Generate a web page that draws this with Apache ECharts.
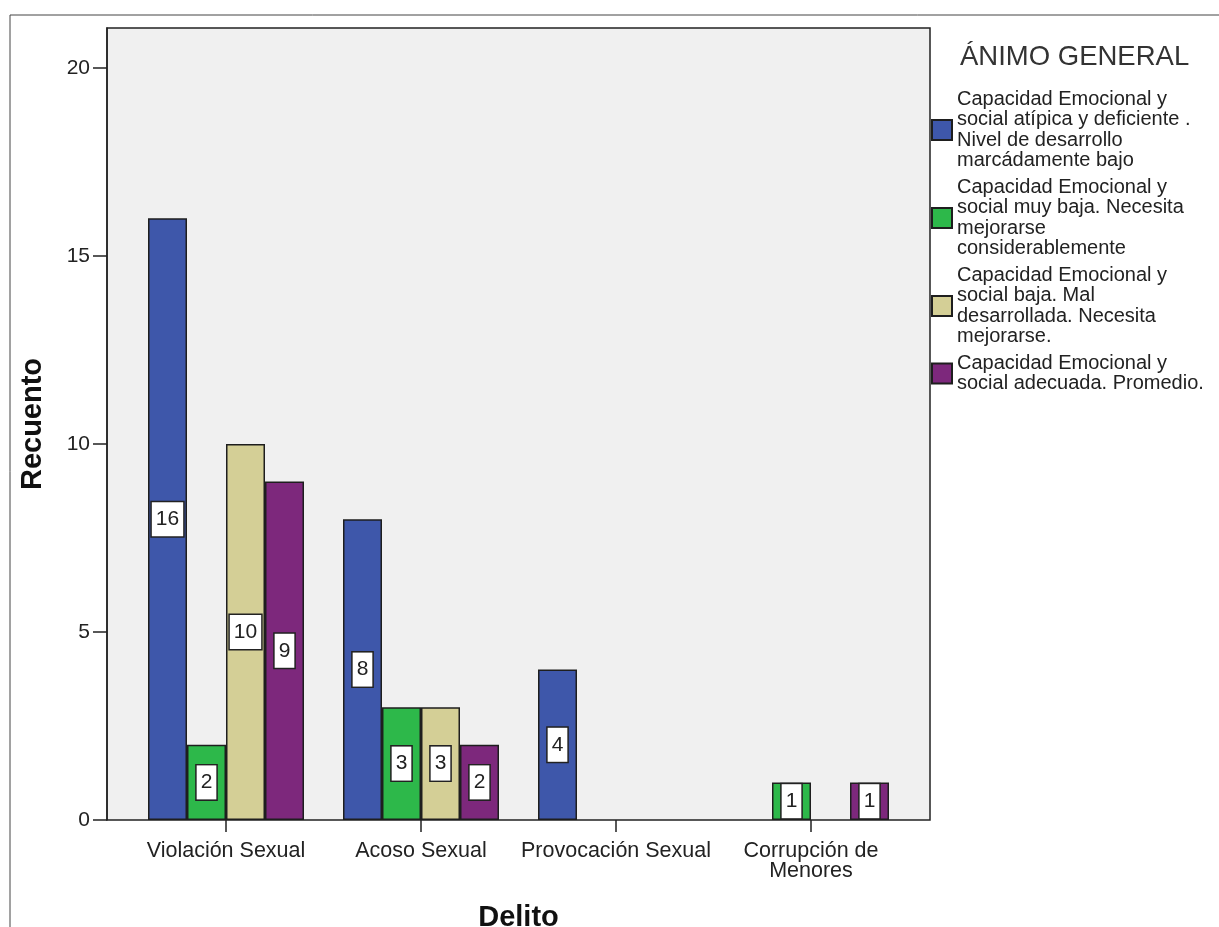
<!DOCTYPE html>
<html>
<head>
<meta charset="utf-8">
<script src="https://cdn.jsdelivr.net/npm/echarts@6/dist/echarts.min.js"></script>
<style>
html,body{margin:0;padding:0;background:#fff;}
#c{width:1219px;height:927px;}
</style>
</head>
<body>
<div id="c"></div>
<script>
const categories = ['Violación Sexual', 'Acoso Sexual', 'Provocación Sexual', 'Corrupción de\nMenores'];
const seriesNames = [
  'Capacidad Emocional y\nsocial atípica y deficiente .\nNivel de desarrollo\nmarcádamente bajo',
  'Capacidad Emocional y\nsocial muy baja. Necesita\nmejorarse\nconsiderablemente',
  'Capacidad Emocional y\nsocial baja. Mal\ndesarrollada. Necesita\nmejorarse.',
  'Capacidad Emocional y\nsocial adecuada. Promedio.'
];
const valuesAtipica = [16, 8, 4, null];
const valuesMuyBaja = [2, 3, null, 1];
const valuesBaja = [10, 3, null, null];
const valuesAdecuada = [9, 2, null, 1];
const yTicks = [0, 5, 10, 15, 20];
const colors = ['#3e57aa', '#2db84a', '#d4cf96', '#7d287c'];

const FONT = '"Liberation Sans", Arial, sans-serif';
const YMAX = 21.06;

const seriesData = [valuesAtipica, valuesMuyBaja, valuesBaja, valuesAdecuada];

const chart = echarts.init(document.getElementById('c'), null, {renderer: 'canvas'});
chart.setOption({
  animation: false,
  backgroundColor: '#ffffff',
  textStyle: {fontFamily: FONT},
  graphic: [{
    type: 'rect',
    shape: {x: 10, y: 15, width: 1400, height: 1200},
    style: {fill: 'none', stroke: '#444', lineWidth: 1},
    silent: true,
    z: -10
  }],
  title: {
    text: 'ÁNIMO GENERAL',
    left: 955,
    top: 38,
    textStyle: {fontFamily: FONT, fontSize: 27.5, fontWeight: 'normal', color: '#333'}
  },
  legend: {
    orient: 'vertical',
    left: 931,
    top: 89,
    padding: 0,
    itemWidth: 20,
    itemHeight: 20,
    itemGap: 6,
    icon: 'rect',
    data: seriesNames,
    textStyle: {fontFamily: FONT, fontSize: 20, color: '#222', lineHeight: 20.5, padding: [0, 0, 0, 0]}
  },
  grid: [
    {left: 107, top: 28, width: 823, height: 792, show: true, backgroundColor: '#f0f0f0', borderColor: '#222', borderWidth: 1.5, containLabel: false, outerBoundsMode: 'none'},
    {left: 128.5, top: 28, width: 780, height: 792, containLabel: false, outerBoundsMode: 'none'}
  ],
  xAxis: [
    {gridIndex: 0, type: 'value', show: false, min: 0, max: 1},
    {
      gridIndex: 1,
      type: 'category',
      data: categories,
      name: 'Delito',
      nameLocation: 'middle',
      nameGap: 83,
      nameTextStyle: {fontFamily: FONT, fontSize: 29, fontWeight: 'bold', color: '#111'},
      axisLine: {show: false},
      axisTick: {show: true, alignWithLabel: true, length: 12, lineStyle: {color: '#222', width: 1.5}},
      axisLabel: {fontFamily: FONT, fontSize: 21.5, color: '#222', margin: 21, lineHeight: 20, interval: 0},
      splitLine: {show: false}
    }
  ],
  yAxis: [
    {
      gridIndex: 0,
      type: 'value',
      min: 0,
      max: YMAX,
      name: 'Recuento',
      nameLocation: 'middle',
      nameRotate: 90,
      nameGap: 60,
      nameTextStyle: {fontFamily: FONT, fontSize: 29, fontWeight: 'bold', color: '#111'},
      axisLine: {show: true, lineStyle: {color: '#222', width: 1.5}},
      axisTick: {show: true, length: 14, customValues: yTicks, lineStyle: {color: '#222', width: 1.5}},
      axisLabel: {fontFamily: FONT, fontSize: 21, color: '#222', margin: 17, customValues: yTicks,
        formatter: v => (yTicks.indexOf(v) >= 0 ? String(v) : '')},
      splitLine: {show: false}
    },
    {gridIndex: 1, type: 'value', min: 0, max: YMAX, show: false}
  ],
  series: seriesNames.map((n, i) => ({
    name: n,
    type: 'bar',
    xAxisIndex: 1,
    yAxisIndex: 1,
    data: seriesData[i],
    barGap: '0%',
    barCategoryGap: '20%',
    itemStyle: {color: colors[i], borderColor: '#1e1e1e', borderWidth: 1.5},
    label: {
      show: true,
      position: 'inside',
      fontFamily: FONT,
      fontSize: 21,
      color: '#222',
      backgroundColor: '#ffffff',
      borderColor: '#222',
      borderWidth: 1.5,
      padding: [7, 4],
      lineHeight: 20
    }
  }))
});
</script>
</body>
</html>
